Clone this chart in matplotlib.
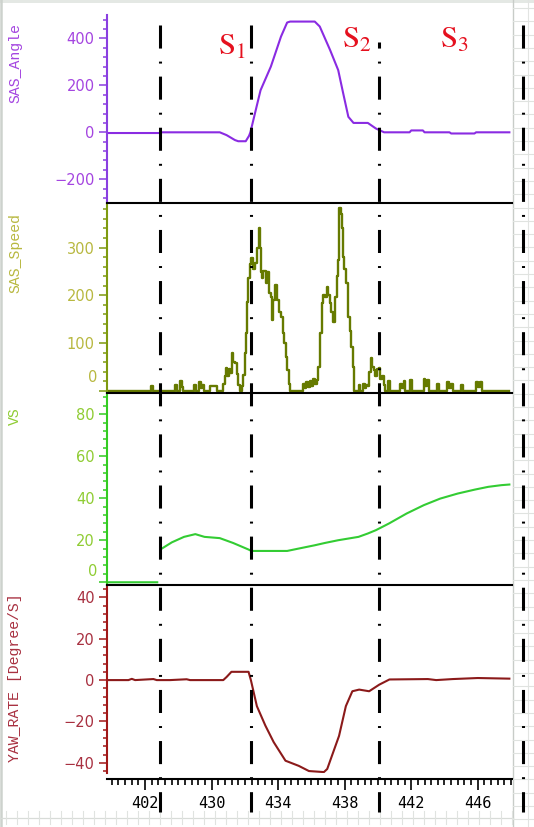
import numpy as np
import matplotlib
matplotlib.use('Agg')
import matplotlib.pyplot as plt
from matplotlib.lines import Line2D
from matplotlib import transforms
from matplotlib.ticker import MultipleLocator, FixedLocator, FuncFormatter

# ---- data (time axis in seconds) ----
angle_t = [423.8, 426.9, 427.0, 430.49, 430.9, 431.4, 431.6, 432.05, 432.25, 432.33,
           432.94, 433.56, 434.17, 434.54, 434.72, 436.2, 436.5, 437.12, 437.61, 437.91,
           438.22, 438.53, 439.39, 439.88, 440.37, 441.9, 442.0, 442.7, 442.8, 444.3,
           444.4, 445.8, 445.9, 447.9]
angle_v = [-3, -3, 0, 0, -12, -33, -38, -38, -15, 0,
           179, 280, 408, 468, 472, 472, 451, 351, 265, 166,
           66, 40, 40, 16, 0, 0, 8, 8, 0, 0,
           -5, -5, 0, 0]

speed_t = [423.8, 426.35, 426.38, 426.5, 427.75, 427.79, 427.9, 428.05, 428.1, 428.2,
           428.3, 428.9, 428.96, 429.05, 429.2, 429.26, 429.35, 429.45, 429.55, 429.85,
           429.9, 430.25, 430.35, 430.6, 430.7, 430.8, 430.86, 430.95, 431.05, 431.1,
           431.23, 431.3, 431.41, 431.5, 431.6, 431.72, 431.8, 431.9, 432.02, 432.09,
           432.15, 432.21, 432.3, 432.39, 432.5, 432.58, 432.7, 432.82, 432.9, 432.94,
           433.01, 433.1, 433.25, 433.31, 433.45, 433.56, 433.62, 433.7, 433.8, 433.93,
           434.05, 434.17, 434.3, 434.36, 434.45, 434.54, 434.63, 434.72, 435.46, 435.5,
           435.6, 435.7, 435.8, 435.9, 436.0, 436.1, 436.2, 436.32, 436.38, 436.5,
           436.63, 436.72, 436.81, 436.93, 436.99, 437.12, 437.2, 437.3, 437.42, 437.52,
           437.61, 437.67, 437.75, 437.85, 437.91, 437.98, 438.1, 438.22, 438.3, 438.4,
           438.47, 438.53, 438.83, 438.88, 438.95, 439.1, 439.2, 439.3, 439.39, 439.48,
           439.57, 439.66, 439.75, 439.85, 439.95, 440.06, 440.15, 440.25, 440.37, 440.45,
           440.58, 440.6, 440.7, 441.3, 441.35, 441.45, 441.55, 441.65, 441.9, 441.95,
           442.05, 442.7, 442.75, 442.85, 442.95, 443.05, 443.5, 443.55, 443.65, 444.1,
           444.15, 444.25, 444.4, 444.5, 444.95, 445.0, 445.1, 445.85, 445.9, 446.0,
           446.15, 446.25, 447.9]
speed_v = [0, 0, 10, 0, 0, 12, 0, 0, 20, 8,
           0, 0, 12, 0, 0, 18, 5, 12, 0, 0,
           10, 10, 0, 0, 15, 30, 48, 30, 45, 38,
           78, 60, 58, 35, 12, 0, 10, 33, 80, 121,
           185, 237, 265, 279, 255, 267, 300, 340, 300, 248,
           237, 250, 225, 248, 205, 196, 148, 190, 221, 190,
           165, 154, 120, 100, 70, 44, 15, 0, 0, 15,
           5, 18, 8, 20, 10, 25, 15, 22, 50, 120,
           183, 200, 196, 217, 200, 183, 165, 144, 196, 240,
           273, 383, 370, 342, 280, 255, 225, 154, 125, 92,
           50, 0, 0, 12, 0, 15, 5, 12, 10, 40,
           69, 50, 44, 30, 45, 48, 25, 30, 12, 0,
           0, 20, 0, 0, 15, 5, 20, 0, 0, 22,
           0, 0, 25, 10, 22, 0, 0, 15, 0, 0,
           18, 5, 15, 0, 0, 12, 0, 0, 18, 8,
           18, 0, 0]

vs_t = [423.8, 426.73, np.nan, 427.0, 427.61, 428.34, 429.02, 429.57, 430.49, 431.29,
        432.21, 432.39, 434.54, 435.15, 436.2, 436.81, 437.61, 438.83, 439.39, 439.88,
        440.67, 441.72, 442.76, 443.74, 444.79, 445.83, 446.63, 447.42, 447.9]
vs_v = [0, 0, np.nan, 16, 19, 21.6, 22.9, 21.6, 21, 18.7,
        15.6, 14.9, 14.9, 15.9, 17.6, 18.7, 20, 21.6, 23.2, 24.8,
        28, 32.7, 36.7, 39.8, 42.2, 44.1, 45.4, 46.2, 46.5]

yaw_t = [423.8, 425.0, 425.2, 425.4, 426.5, 426.7, 427.5, 428.5, 428.7, 429.5,
         430.7, 430.9, 431.19, 432.22, 432.36, 432.72, 433.23, 433.73, 434.44, 435.24,
         435.85, 436.75, 436.95, 437.26, 437.66, 438.07, 438.46, 438.87, 439.47, 440.08,
         440.69, 443.0, 443.5, 444.5, 446.0, 447.9]
yaw_v = [0, 0, 0.6, 0, 0.5, 0, 0, 0.4, 0, 0,
         0, 1.5, 4, 4, 0, -12.6, -22, -30, -39, -41.5,
         -44, -44.5, -43, -36, -27, -12.6, -5.4, -4.6, -5.4, -2.2,
         0.3, 0.5, 0, 0.5, 1, 0.7]

stage_t = [426.9, 432.35, 440.05, 448.7]
stage_names = [r'$\mathrm{S}_1$', r'$\mathrm{S}_2$', r'$\mathrm{S}_3$']
xtick_pos = [426, 430, 434, 438, 442, 446]
xtick_lab = ['402', '430', '434', '438', '442', '446']

# ---- figure ----
plt.rcParams['lines.scale_dashes'] = False
plt.rcParams['mathtext.fontset'] = 'stix'
W, H = 534, 827
fig = plt.figure(figsize=(W / 100, H / 100), dpi=100)

# light frame of the software window
bg = fig.add_axes([0, 0, 1, 1], zorder=-5)
bg.set_xlim(0, W)
bg.set_ylim(H, 0)
bg.axis('off')
bg.add_patch(plt.Rectangle((0, 0), W, 2.5, color='#E4E8E4', lw=0))
bg.plot([1.2, 1.2], [0, H], color='#CDD2CD', lw=1.8)
bg.plot([512.7, 512.7], [0, H], color='#C8CCC8', lw=1.0)
bg.plot([528, 528], [0, H], color='#E2E4E2', lw=0.8)
for yy in np.arange(8, H, 13.3):
    bg.plot([513, W], [yy, yy], color='#E0E3E0', lw=0.8)
bg.plot([0, 513], [817.5, 817.5], color='#D8DCD8', lw=0.9)
for xx in np.arange(6, 513, 11):
    bg.plot([xx, xx], [811, 824], color='#E0E3E0', lw=0.8)

left, right = 107, 511.7
rows = [(15, 202.7), (202.7, 393.3), (393.3, 585), (585, 772.7)]
axes = []
for i, (top, bot) in enumerate(rows):
    ax = fig.add_axes([left / W, 1 - bot / H, (right - left) / W, (bot - top) / H],
                      sharex=axes[0] if axes else None)
    axes.append(ax)
ax1, ax2, ax3, ax4 = axes

line_cols = ['#8A2BE2', '#667A00', '#33CC33', '#8B1A1A']
spine_cols = ['#8A3FE0', '#7E9A10', '#33CC22', '#A01818']
lab_cols = ['#A445E0', '#B8B840', '#8FCC33', '#A83040']
names = ['SAS_Angle', 'SAS_Speed', 'VS', 'YAW_RATE [Degree/S]']
name_top = [23, 213, 407, 593]

ax1.plot(angle_t, angle_v, color=line_cols[0], lw=1.5)
ax2.plot(speed_t, speed_v, color=line_cols[1], lw=1.7, drawstyle='steps-post')
ax3.plot(vs_t, vs_v, color=line_cols[2], lw=1.5)
ax4.plot(yaw_t, yaw_v, color=line_cols[3], lw=1.5)

ax1.set_ylim(-300, 500)
ax1.yaxis.set_major_locator(FixedLocator([-200, 0, 200, 400]))
ax1.yaxis.set_minor_locator(MultipleLocator(40))
ax2.set_ylim(-5.5, 394)
ax2.yaxis.set_major_locator(FixedLocator([0, 100, 200, 300]))
ax2.yaxis.set_minor_locator(MultipleLocator(20))
ax3.set_ylim(-1.3, 89.9)
ax3.yaxis.set_major_locator(FixedLocator([0, 20, 40, 60, 80]))
ax3.yaxis.set_minor_locator(MultipleLocator(4))
ax4.set_ylim(-44.8, 46)
ax4.yaxis.set_major_locator(FixedLocator([-40, -20, 0, 20, 40]))
ax4.yaxis.set_minor_locator(MultipleLocator(4))
ax4.set_xlim(423.71, 448.04)

for i, ax in enumerate(axes):
    ax.spines['right'].set_visible(False)
    ax.spines['left'].set_color(spine_cols[i])
    ax.spines['left'].set_linewidth(1.5)
    if i == 0:
        ax.spines['top'].set_visible(False)
    else:
        ax.spines['top'].set_color('black')
        ax.spines['top'].set_linewidth(1.5)
    if i < 3:
        ax.spines['bottom'].set_visible(False)
        ax.tick_params(axis='x', which='both', bottom=False, labelbottom=False)
    ax.tick_params(axis='y', which='major', length=6, width=1.1, color=spine_cols[i],
                   labelcolor=lab_cols[i], labelsize=10.5, pad=3)
    ax.tick_params(axis='y', which='minor', length=3.2, width=1.1, color=spine_cols[i])
    fig.text(15 / W, 1 - name_top[i] / H, names[i], rotation=90, va='top', ha='center',
             family='Liberation Mono', fontsize=10.7, color=lab_cols[i])

# the bottom "0" labels sit raised above their ticks in the original
for ax, col, dy in [(ax2, lab_cols[1], 9.4), (ax3, lab_cols[2], 7.9)]:
    ax.yaxis.set_major_formatter(FuncFormatter(lambda v, p: '' if v == 0 else f'{v:g}'))
    ax.annotate('0', xy=(0, 0), xycoords=('axes fraction', 'data'), xytext=(-6.6, dy),
                textcoords='offset points', ha='right', va='center', fontsize=10.5,
                color=col, annotation_clip=False)

ax4.spines['bottom'].set_position(('outward', 4.75))
ax4.spines['bottom'].set_color('black')
ax4.spines['bottom'].set_linewidth(1.5)
ax4.xaxis.set_major_locator(FixedLocator(xtick_pos))
ax4.set_xticklabels(xtick_lab, family='DejaVu Sans Mono', fontsize=11)
ax4.xaxis.set_minor_locator(MultipleLocator(0.4))
ax4.tick_params(axis='x', which='major', length=8, width=1.2, color='black', pad=4)
ax4.tick_params(axis='x', which='minor', length=4.5, width=1.2, color='black')

# stage separators (dash-dot, running through all panels)
btf = transforms.blended_transform_factory(ax4.transData, fig.transFigure)
tops = [25, 25, 42, 25]
for t, top in zip(stage_t, tops):
    off = (top - 25) * 0.72
    ln = Line2D([t, t], [1 - top / H, 1 - 812 / H], transform=btf, color='black', lw=2.2,
                linestyle=(off, (16.6, 9.4, 1.4, 9.4)), dash_capstyle='butt', zorder=5)
    fig.add_artist(ln)

# stage names
for name, x, base in zip(stage_names, [218, 342, 440], [55, 48, 48]):
    fig.text(x / W, 1 - base / H, name, color='#E5101E', fontsize=22, va='baseline', ha='left')

fig.savefig('out.png', dpi=100)
